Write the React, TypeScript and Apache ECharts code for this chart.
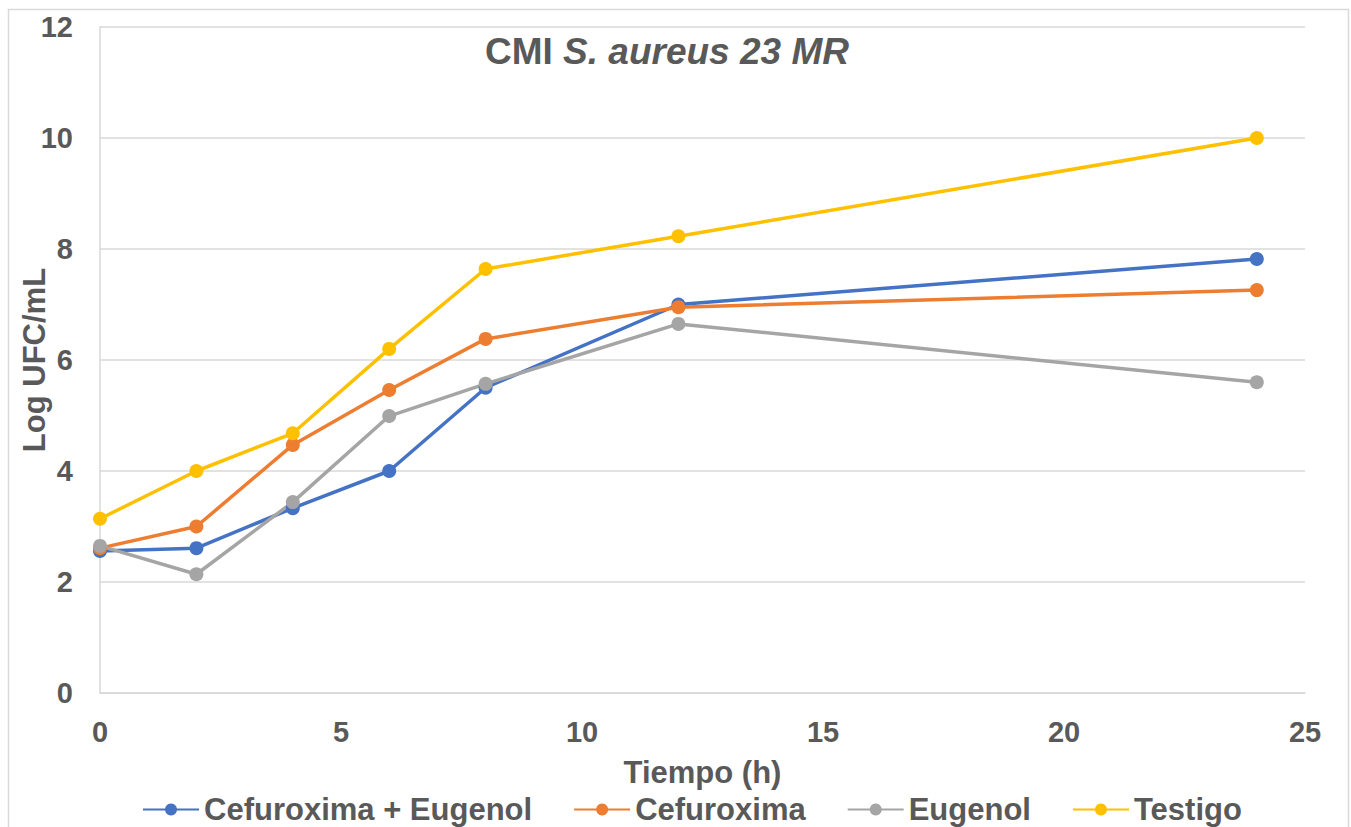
import React, { useEffect, useRef } from "react";
import * as echarts from "echarts";

const timeHours = [0, 2, 4, 6, 8, 12, 24];
const seriesNames = ["Cefuroxima + Eugenol", "Cefuroxima", "Eugenol", "Testigo"];
const cefEug = [2.56, 2.61, 3.33, 4.0, 5.5, 7.0, 7.82];
const cef = [2.61, 3.0, 4.47, 5.46, 6.38, 6.95, 7.26];
const eug = [2.65, 2.14, 3.44, 4.99, 5.57, 6.65, 5.6];
const testigo = [3.14, 4.0, 4.68, 6.2, 7.64, 8.23, 10.0];
const seriesValues = [cefEug, cef, eug, testigo];
const colors = ["#4472C4", "#ED7D31", "#A5A5A5", "#FFC000"];

const FONT = "'Liberation Sans', Arial, sans-serif";
const TXT = "#595959";

export default function App() {
  const ref = useRef<HTMLDivElement>(null);
  useEffect(() => {
    if (!ref.current) return;
    const chart = echarts.init(ref.current, null, { renderer: "svg" });
    chart.setOption({
      animation: false,
      backgroundColor: "#ffffff",
      textStyle: { fontFamily: FONT },
      title: {
        text: "{n|CMI }{i|S. aureus 23 MR}",
        left: 480,
        top: 28,
        textStyle: {
          rich: {
            n: { fontFamily: FONT, fontWeight: "bold", fontSize: 37, color: TXT },
            i: { fontFamily: FONT, fontWeight: "bold", fontStyle: "italic", fontSize: 37, color: TXT },
          },
        },
      },
      graphic: [
        {
          type: "rect",
          shape: { x: 8.5, y: 9.5, width: 1340, height: 840 },
          style: { fill: "none", stroke: "#d9d9d9", lineWidth: 1.5 },
          silent: true,
        },
      ],
      legend: {
        left: 137,
        top: 789,
        itemWidth: 56,
        itemHeight: 15,
        itemGap: 41,
        textStyle: { fontFamily: FONT, fontWeight: "bold", fontSize: 31, color: TXT },
        data: seriesNames,
      },
      grid: { left: 100, top: 27, right: 46, bottom: 134, containLabel: false, outerBoundsMode: "none" },
      xAxis: {
        type: "value",
        min: 0,
        max: 25,
        interval: 5,
        name: "Tiempo (h)",
        nameLocation: "middle",
        nameGap: 64,
        nameMoveOverlap: false,
        nameTextStyle: { fontFamily: FONT, fontWeight: "bold", fontSize: 31, color: TXT },
        axisLine: { show: true, lineStyle: { color: "#d9d9d9", width: 1.5 } },
        axisTick: { show: false },
        splitLine: { show: false },
        axisLabel: { fontFamily: FONT, fontWeight: "bold", fontSize: 29, color: TXT, margin: 24 },
      },
      yAxis: {
        type: "value",
        min: 0,
        max: 12,
        interval: 2,
        name: "Log UFC/mL",
        nameLocation: "middle",
        nameGap: 50,
        nameMoveOverlap: false,
        nameTextStyle: { fontFamily: FONT, fontWeight: "bold", fontSize: 31, color: TXT },
        axisLine: { show: true, lineStyle: { color: "#d9d9d9", width: 1.5 } },
        axisTick: { show: false },
        splitLine: { show: true, lineStyle: { color: "#d9d9d9", width: 1.5 } },
        axisLabel: { fontFamily: FONT, fontWeight: "bold", fontSize: 29, color: TXT, margin: 27 },
      },
      series: seriesNames.map((name, i) => ({
        name,
        type: "line",
        data: timeHours.map((t, j) => [t, seriesValues[i][j]]),
        color: colors[i],
        symbol: "circle",
        symbolSize: 14,
        lineStyle: { width: 3.5, color: colors[i] },
        itemStyle: { color: colors[i] },
      })),
    });
    return () => chart.dispose();
  }, []);
  return <div ref={ref} style={{ width: 1351, height: 827, position: "absolute", left: 0, top: 0 }} />;
}
